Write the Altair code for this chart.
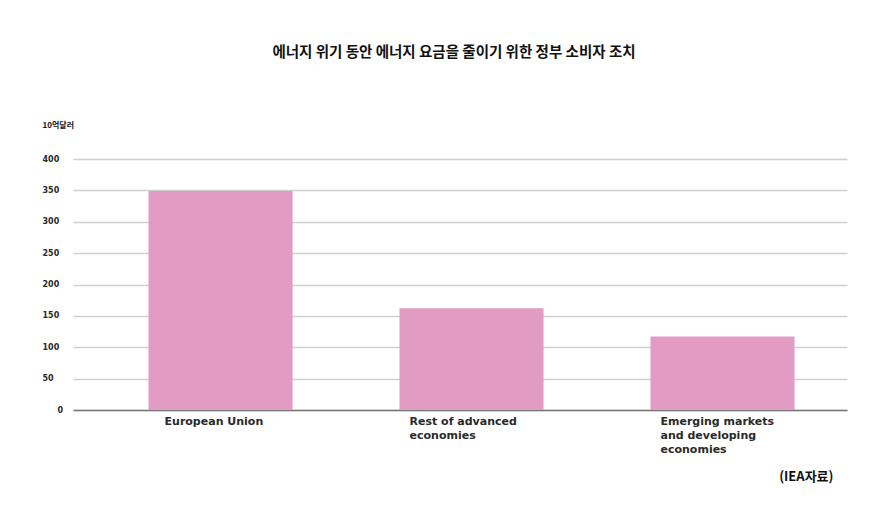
import altair as alt
import pandas as pd

categories = ["European Union", "Rest of advanced\neconomies", "Emerging markets\nand developing\neconomies"]
values = [349, 162, 117]
y_ticks = [0, 50, 100, 150, 200, 250, 300, 350, 400]

title_text = "에너지 위기 동안 에너지 요금을 줄이기 위한 정부 소비자 조치"
y_title = "10억달러"
source_text = "(IEA자료)"

df = pd.DataFrame({"region": categories, "value": values})

BAR = "#E29BC3"
LABEL_FONT = "DejaVu Sans"
KR_FONT = "Noto Sans CJK KR"

chart = alt.Chart(df).mark_bar(color=BAR).encode(
    x=alt.X(
        "region:N",
        sort=categories,
        scale=alt.Scale(paddingInner=0.426, paddingOuter=0.255, align=0.59),
        axis=alt.Axis(
            title=source_text,
            titleFont=KR_FONT,
            titleFontSize=13,
            titleFontWeight="bold",
            titleColor="#111",
            titleAlign="right",
            titleBaseline="middle",
            titleX=760,
            titleY=66,
            labelExpr="split(datum.label, '\\n')",
            labelAngle=0,
            labelAlign="left",
            labelBaseline="top",
            labelPadding=5,
            labelLineHeight=14,
            labelFont=LABEL_FONT,
            labelFontSize=11,
            labelFontWeight="bold",
            labelColor="#2a2a2a",
            labelOffset={"condition": {"test": "datum.value == 'European Union'", "value": -56}, "value": -62},
            ticks=False,
            domainColor="#777",
            domainWidth=1.5,
            grid=False,
        ),
    ),
    y=alt.Y(
        "value:Q",
        scale=alt.Scale(domain=[0, 400], nice=False),
        axis=alt.Axis(
            values=y_ticks,
            title=y_title,
            titleFont=KR_FONT,
            titleFontSize=8,
            titleFontWeight="bold",
            titleColor="#111",
            titleAngle=0,
            titleAlign="left",
            titleBaseline="middle",
            titleX=-31,
            titleY=-34,
            labelAlign="left",
            labelBaseline="middle",
            labelPadding={"condition": {"test": "datum.value == 0", "value": 16}, "value": 31},
            labelFont=LABEL_FONT,
            labelFontSize=8,
            labelFontWeight="bold",
            labelColor="#2a2a2a",
            ticks=False,
            domain=False,
            grid=True,
            gridColor="#cfcfcf",
            gridWidth=1.5,
        ),
    ),
).properties(
    width=774,
    height=251,
    background="white",
    title=alt.TitleParams(
        text=title_text,
        font=KR_FONT,
        fontSize=14.5,
        fontWeight="bold",
        color="#111",
        anchor="middle",
        frame="group",
        baseline="middle",
        offset=54,
        dx=-6,
    ),
    autosize=alt.AutoSizeParams(type="none"),
    padding={"left": 65, "top": 151, "right": 20, "bottom": 90},
).configure_view(strokeWidth=0, stroke="transparent")

chart.save("out.html", embed_options={"renderer": "svg", "actions": False})
